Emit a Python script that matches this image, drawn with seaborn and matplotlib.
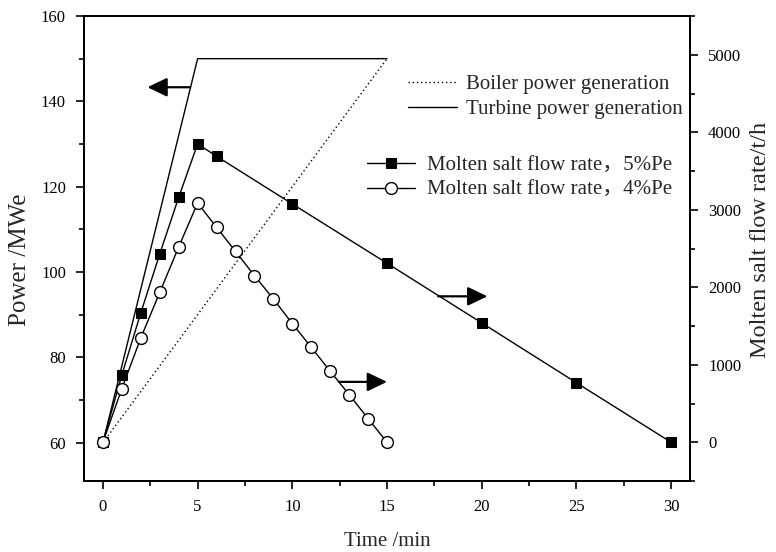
import matplotlib
matplotlib.use("Agg")
import matplotlib.pyplot as plt
import seaborn as sns
import pandas as pd
from matplotlib.ticker import MultipleLocator

sns.set_style("ticks")
plt.rcParams['font.family'] = ['Liberation Serif', 'Noto Sans CJK SC']
plt.rcParams['mathtext.fontset'] = 'stix'

# ---- data ----
turbine_t = [0, 5, 15]
turbine_p = [60, 150, 150]
boiler_t = [0, 15]
boiler_p = [60, 150]

flow5_t = [0, 1, 2, 3, 4, 5, 6, 10, 15, 20, 25, 30]
flow5_v = [0, 870, 1670, 2430, 3160, 3850, 3690, 3075, 2310, 1540, 768, 0]
flow4_t = [0, 1, 2, 3, 4, 5, 6, 7, 8, 9, 10, 11, 12, 13, 14, 15]
flow4_v = [0, 693, 1346, 1934, 2520, 3087, 2773, 2463, 2150, 1849, 1531, 1225, 916, 615, 306, 0]

lab_boiler = "Boiler power generation"
lab_turbine = "Turbine power generation"
lab_f5 = "Molten salt flow rate\uff0c5%Pe"
lab_f4 = "Molten salt flow rate\uff0c4%Pe"

df_turb = pd.DataFrame({"t": turbine_t, "p": turbine_p})
df_boil = pd.DataFrame({"t": boiler_t, "p": boiler_p})
df_f5 = pd.DataFrame({"t": flow5_t, "v": flow5_v})
df_f4 = pd.DataFrame({"t": flow4_t, "v": flow4_v})

fig = plt.figure(figsize=(7.76, 5.52), dpi=100)
ax = fig.add_axes([84/776, 1-481/552, (690-84)/776, (481-16)/552])
ax2 = ax.twinx()

sns.lineplot(data=df_boil, x="t", y="p", ax=ax, color="black", lw=1.0,
             linestyle=(0, (1, 2)), label=lab_boiler, legend=False)
sns.lineplot(data=df_turb, x="t", y="p", ax=ax, color="black", lw=1.0,
             label=lab_turbine, legend=False)

sns.lineplot(data=df_f5, x="t", y="v", ax=ax2, color="black", lw=1.0,
             marker="s", markersize=7.5, markerfacecolor="black",
             markeredgecolor="black", label=lab_f5, legend=False)
sns.lineplot(data=df_f4, x="t", y="v", ax=ax2, color="black", lw=1.0,
             marker="o", markersize=8.5, markerfacecolor="white",
             markeredgecolor="black", markeredgewidth=1.0, label=lab_f4, legend=False)

ax.set_xlim(-1, 31)
ax.set_ylim(51, 160)
ax2.set_ylim(-500, 5500)

ax.xaxis.set_major_locator(MultipleLocator(5))
ax.xaxis.set_minor_locator(MultipleLocator(2.5))
ax.yaxis.set_major_locator(MultipleLocator(20))
ax.yaxis.set_minor_locator(MultipleLocator(10))
ax2.yaxis.set_major_locator(MultipleLocator(1000))
ax2.yaxis.set_minor_locator(MultipleLocator(500))

for a in (ax, ax2):
    for s in a.spines.values():
        s.set_visible(True)
        s.set_linewidth(1.3)
        s.set_color("black")
    a.tick_params(which="major", length=6, width=1.2, labelsize=12, color="black",
                  labelcolor="black", pad=7)
    a.tick_params(which="minor", length=3.5, width=1.2, color="black")
ax.tick_params(axis="x", which="both", top=False)
ax.tick_params(axis="y", which="both", right=False)

ax.set_xlabel("Time /min", fontsize=15, labelpad=12)
ax.set_ylabel("Power /MWe", fontsize=18)
ax2.set_ylabel("Molten salt flow rate/t/h", fontsize=17.5)
ax.yaxis.set_label_coords(-0.0875, 0.475)
ax2.yaxis.set_label_coords(1.099, 0.518)

# arrows
arrow_kw = dict(arrowstyle="-|>,head_length=1.0,head_width=0.48", color="black",
                lw=1.6, mutation_scale=12, shrinkA=0, shrinkB=0)
ax.annotate("", xy=(2.35, 143.3), xytext=(4.6, 143.3), arrowprops=arrow_kw)
ax2.annotate("", xy=(20.3, 1883), xytext=(17.7, 1883), arrowprops=arrow_kw)
ax2.annotate("", xy=(15.0, 779), xytext=(12.45, 779), arrowprops=arrow_kw)

h1, l1 = ax.get_legend_handles_labels()
leg1 = ax.legend(h1, l1, loc="upper left", bbox_to_anchor=(0.535, 0.874),
                 frameon=False, fontsize=15, borderpad=0, handlelength=2.35,
                 handletextpad=0.4, labelspacing=0.25, borderaxespad=0)
h2, l2 = ax2.get_legend_handles_labels()
leg2 = ax2.legend(h2, l2, loc="upper left", bbox_to_anchor=(0.467, 0.699),
                  frameon=False, fontsize=15, borderpad=0, handlelength=2.3,
                  handletextpad=0.6, labelspacing=0.25, borderaxespad=0)

fig.savefig("out.png", dpi=100)
